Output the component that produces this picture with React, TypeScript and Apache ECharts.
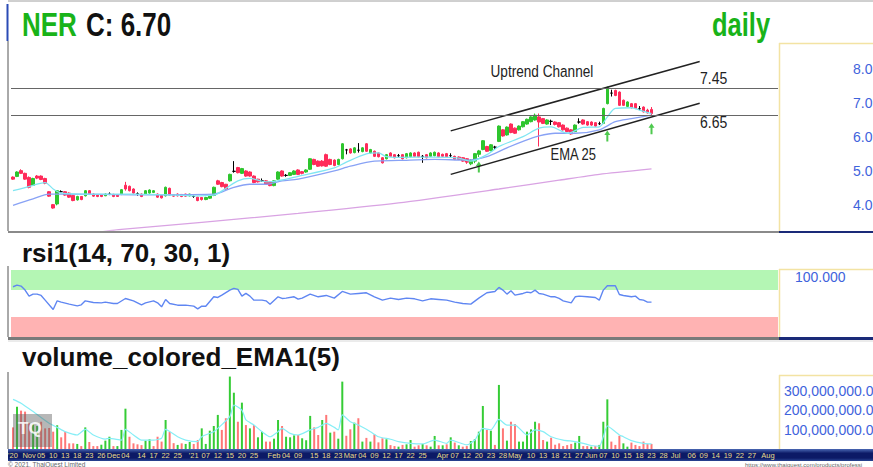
import React, { useEffect, useRef } from "react";
import * as echarts from "echarts";

const FONT = "'Liberation Sans', Arial, Helvetica, sans-serif";
const SLOT_COUNT = 191;

// x-axis tick labels: [slot index, text]
const xTickLabels: [number, string][] = [
  [0, "'20"], [4, "Nov"], [7, "05"], [10, "10"], [13, "13"], [16, "18"], [19, "23"], [22, "26"],
  [25, "Dec"], [28, "04"], [32, "14"], [35, "17"], [38, "22"], [41, "25"],
  [45, "'21"], [48, "07"], [51, "12"], [54, "15"], [57, "20"], [60, "25"],
  [65, "Feb"], [68, "04"], [71, "09"], [75, "15"], [78, "18"], [81, "23"],
  [84, "Mar"], [87, "04"], [90, "09"], [93, "12"], [96, "17"], [99, "22"], [102, "25"],
  [107, "Apr"], [110, "07"], [113, "12"], [116, "20"], [119, "23"], [122, "28"],
  [125, "May"], [129, "10"], [132, "13"], [135, "18"], [138, "21"], [141, "27"],
  [144, "Jun"], [147, "07"], [150, "10"], [153, "15"], [156, "18"], [159, "23"], [162, "28"],
  [165, "Jul"], [169, "06"], [172, "09"], [175, "14"], [178, "19"], [181, "22"], [184, "27"],
  [188, "Aug"],
];

// daily candles: [open, close, low, high]
const ohlc: number[][] = [
  [4.83, 4.77, 4.75, 4.85], [4.85, 4.98, 4.83, 5.0], [5.02, 4.94, 4.92, 5.06], [4.94, 4.77, 4.75, 4.96],
  [4.82, 4.53, 4.5, 4.85], [4.59, 4.79, 4.57, 4.81], [4.86, 4.8, 4.77, 4.89], [4.86, 4.76, 4.74, 4.88],
  [4.79, 4.65, 4.62, 4.81], [4.4, 4.27, 4.25, 4.42], [4.02, 3.92, 3.9, 4.04], [4.04, 4.43, 4.0, 4.45],
  [4.4, 4.4, 4.37, 4.44], [4.4, 4.3, 4.28, 4.42], [4.36, 4.24, 4.22, 4.38], [4.29, 4.14, 4.12, 4.3],
  [4.16, 4.26, 4.14, 4.28], [4.26, 4.17, 4.15, 4.27], [4.28, 4.43, 4.26, 4.45], [4.43, 4.33, 4.31, 4.45],
  [4.33, 4.27, 4.25, 4.35], [4.3, 4.26, 4.24, 4.32], [4.3, 4.26, 4.24, 4.31], [4.28, 4.33, 4.27, 4.35],
  [4.33, 4.33, 4.3, 4.38], [4.32, 4.26, 4.24, 4.34], [4.3, 4.26, 4.25, 4.32], [4.32, 4.46, 4.3, 4.48],
  [4.59, 4.48, 4.43, 4.69], [4.56, 4.43, 4.41, 4.58], [4.48, 4.36, 4.34, 4.5], [4.34, 4.34, 4.28, 4.38],
  [4.33, 4.26, 4.24, 4.35], [4.33, 4.43, 4.31, 4.45], [4.36, 4.45, 4.34, 4.47], [4.38, 4.43, 4.36, 4.45],
  [4.33, 4.24, 4.22, 4.35], [4.29, 4.22, 4.2, 4.3], [4.28, 4.53, 4.26, 4.55], [4.5, 4.3, 4.28, 4.52],
  [4.31, 4.27, 4.25, 4.33], [4.33, 4.28, 4.26, 4.35], [4.32, 4.26, 4.24, 4.33], [4.33, 4.27, 4.25, 4.34],
  [4.28, 4.33, 4.26, 4.34], [4.26, 4.26, 4.22, 4.29], [4.24, 4.14, 4.12, 4.25], [4.23, 4.17, 4.14, 4.24],
  [4.17, 4.23, 4.15, 4.25], [4.21, 4.3, 4.19, 4.32], [4.29, 4.53, 4.27, 4.55], [4.72, 4.62, 4.6, 4.75],
  [4.67, 4.55, 4.53, 4.69], [4.62, 4.48, 4.45, 4.63], [4.72, 4.91, 4.7, 4.93], [5.0, 5.0, 4.96, 5.3],
  [5.11, 4.96, 4.94, 5.13], [4.94, 5.08, 4.92, 5.1], [5.01, 4.86, 4.84, 5.03], [4.98, 4.86, 4.84, 5.0],
  [4.86, 4.67, 4.65, 4.88], [4.77, 4.69, 4.67, 4.78], [4.72, 4.72, 4.69, 4.79], [4.72, 4.62, 4.6, 4.74],
  [4.69, 4.58, 4.56, 4.7], [4.58, 4.72, 4.56, 4.74], [4.77, 4.98, 4.75, 5.0], [5.01, 4.86, 4.84, 5.03],
  [4.88, 4.88, 4.84, 4.92], [4.88, 4.96, 4.86, 4.98], [4.91, 5.01, 4.89, 5.03], [5.04, 4.91, 4.89, 5.06],
  [4.99, 4.94, 4.91, 5.01], [4.98, 5.04, 4.96, 5.06], [5.06, 5.37, 5.04, 5.39], [5.35, 5.2, 5.18, 5.37],
  [5.3, 5.15, 5.13, 5.32], [5.3, 5.16, 5.14, 5.33], [5.49, 5.15, 5.13, 5.52], [5.35, 5.2, 5.18, 5.37],
  [5.33, 5.17, 5.15, 5.35], [5.2, 5.35, 5.18, 5.37], [5.37, 5.81, 5.35, 5.83], [5.63, 5.63, 5.5, 5.66],
  [5.66, 5.54, 5.52, 5.68], [5.55, 5.69, 5.53, 5.71], [5.62, 5.62, 5.55, 5.83], [5.58, 5.69, 5.56, 5.71],
  [5.81, 5.59, 5.57, 5.83], [5.54, 5.64, 5.52, 5.66], [5.59, 5.44, 5.42, 5.61], [5.54, 5.43, 5.41, 5.56],
  [5.4, 5.25, 5.23, 5.42], [5.37, 5.49, 5.35, 5.51], [5.54, 5.44, 5.42, 5.56], [5.49, 5.4, 5.38, 5.51],
  [5.46, 5.46, 5.42, 5.51], [5.49, 5.37, 5.35, 5.51], [5.4, 5.52, 5.38, 5.54], [5.43, 5.54, 5.41, 5.56],
  [5.54, 5.44, 5.42, 5.56], [5.56, 5.43, 5.41, 5.58], [5.44, 5.44, 5.25, 5.48], [5.49, 5.4, 5.38, 5.51],
  [5.44, 5.54, 5.42, 5.56], [5.46, 5.56, 5.44, 5.58], [5.54, 5.43, 5.41, 5.56], [5.5, 5.44, 5.42, 5.52],
  [5.52, 5.43, 5.41, 5.54], [5.46, 5.46, 5.4, 5.53], [5.44, 5.35, 5.33, 5.46], [5.42, 5.35, 5.33, 5.44],
  [5.4, 5.3, 5.28, 5.42], [5.37, 5.27, 5.22, 5.39], [5.22, 5.33, 5.18, 5.35], [5.3, 5.52, 5.24, 5.54],
  [5.5, 5.6, 5.42, 5.63], [5.64, 5.9, 5.62, 5.92], [5.73, 5.59, 5.57, 5.75], [5.61, 5.78, 5.59, 5.8],
  [5.71, 5.71, 5.64, 5.75], [5.88, 6.33, 5.86, 6.35], [6.22, 6.04, 6.02, 6.24], [6.07, 6.3, 6.05, 6.32],
  [6.39, 6.14, 6.12, 6.41], [6.27, 6.12, 6.1, 6.29], [6.22, 6.33, 6.2, 6.35], [6.31, 6.46, 6.29, 6.48],
  [6.39, 6.53, 6.37, 6.55], [6.46, 6.6, 6.44, 6.62], [6.51, 6.65, 6.49, 6.7], [6.6, 6.45, 5.73, 6.7],
  [6.55, 6.41, 6.39, 6.57], [6.39, 6.51, 6.37, 6.53], [6.47, 6.47, 6.36, 6.52], [6.45, 6.38, 6.35, 6.47],
  [6.43, 6.31, 6.29, 6.45], [6.36, 6.22, 6.2, 6.38], [6.27, 6.17, 6.15, 6.29], [6.22, 6.1, 6.08, 6.24],
  [6.17, 6.36, 6.15, 6.38], [6.45, 6.45, 6.4, 6.56], [6.51, 6.39, 6.37, 6.53], [6.46, 6.36, 6.34, 6.48],
  [6.45, 6.36, 6.34, 6.47], [6.43, 6.33, 6.31, 6.45], [6.4, 6.4, 6.36, 6.46], [6.41, 6.85, 6.39, 6.87],
  [6.99, 7.47, 6.97, 7.49], [7.3, 7.3, 7.2, 7.4], [7.38, 7.23, 7.21, 7.4], [7.33, 6.94, 6.92, 7.35],
  [7.09, 6.94, 6.92, 7.11], [6.91, 7.04, 6.89, 7.06], [6.99, 6.87, 6.85, 7.01], [6.99, 6.85, 6.83, 7.01],
  [6.84, 6.84, 6.8, 6.92], [6.89, 6.75, 6.73, 6.91], [6.8, 6.72, 6.7, 6.84], [6.82, 6.7, 6.65, 6.89],
];

// daily volume, millions of shares
const volumeM: number[] = [
  111, 217, 197, 192, 132, 127, 118, 140, 106, 108,
  89, 122, 60, 87, 29, 29, 26, 15, 111, 36,
  15, 15, 22, 43, 63, 15, 15, 98, 207, 63,
  29, 24, 20, 43, 50, 15, 63, 38, 149, 87,
  30, 21, 29, 26, 36, 26, 46, 106, 26, 94,
  118, 175, 98, 158, 372, 289, 140, 238, 123, 106,
  123, 60, 89, 38, 38, 53, 149, 118, 63, 60,
  70, 72, 55, 45, 170, 111, 72, 149, 175, 84,
  89, 53, 346, 68, 101, 135, 158, 38, 57, 38,
  75, 34, 55, 50, 20, 15, 12, 21, 24, 46,
  12, 19, 26, 19, 12, 67, 19, 19, 24, 60,
  33, 19, 12, 15, 41, 51, 89, 221, 98, 94,
  21, 329, 106, 43, 140, 128, 38, 38, 89, 101,
  140, 132, 46, 38, 58, 22, 29, 15, 20, 26,
  33, 67, 15, 15, 12, 15, 21, 140, 255, 38,
  21, 68, 29, 12, 33, 21, 15, 38, 26, 26,
];

// indicator lines: [slot index, value]
const emaFast: number[][] = [
  [0, 4.43], [5, 4.59], [8, 4.67], [10, 4.48], [12, 4.36], [20, 4.33], [30, 4.33], [38, 4.31],
  [45, 4.28], [50, 4.3], [53, 4.5], [56, 4.72], [59, 4.79], [63, 4.69], [66, 4.72], [71, 4.85],
  [80, 5.1], [83, 5.27], [88, 5.51], [91, 5.54], [93, 5.43], [96, 5.41], [105, 5.42], [111, 5.39],
  [114, 5.3], [118, 5.49], [121, 5.73], [127, 6.02], [131, 6.27], [134, 6.31], [138, 6.12],
  [142, 6.29], [146, 6.31], [148, 6.6], [150, 6.85], [154, 6.87], [156, 6.8], [159, 6.7],
];
const ema25: number[][] = [
  [0, 4.0], [5, 4.19], [9, 4.33], [13, 4.33], [30, 4.31], [50, 4.33], [55, 4.53], [59, 4.62],
  [63, 4.62], [67, 4.72], [71, 4.77], [80, 5.01], [84, 5.15], [90, 5.3], [96, 5.32], [105, 5.35],
  [113, 5.33], [118, 5.43], [123, 5.69], [127, 5.88], [131, 6.04], [135, 6.12], [140, 6.12],
  [146, 6.22], [150, 6.46], [154, 6.55], [159, 6.65],
];
const emaLong: number[][] = [
  [22, 3.22], [27, 3.29], [47, 3.5], [71, 3.76], [96, 4.07], [121, 4.48], [136, 4.74],
  [146, 4.91], [159, 5.07],
];
const rsiPoints: number[][] = [
  [0, 75], [1, 77.5], [2, 76], [3, 70], [4, 61], [5, 64], [6, 64], [7, 62], [8, 55], [10, 41],
  [11, 54], [12, 52], [14, 49], [16, 46.5], [17, 48], [18, 54], [20, 51.5], [22, 51], [23, 52],
  [25, 50], [26, 50], [28, 57.5], [30, 54], [32, 48], [33, 51], [35, 54], [36, 51], [37, 45],
  [38, 56], [39, 50], [41, 47.5], [43, 47.5], [45, 46], [46, 42], [47, 46], [48, 46], [50, 60],
  [51, 59], [52, 62.5], [54, 70], [55, 72.5], [56, 71], [57, 61], [58, 65], [59, 61], [60, 55],
  [62, 55], [63, 54], [64, 49], [66, 60], [67, 57.5], [68, 58], [70, 60], [71, 56.5],
  [72, 58], [74, 64], [76, 60], [78, 62], [80, 58], [82, 68], [84, 64], [86, 65], [88, 66],
  [90, 60], [92, 55], [94, 58], [96, 56], [98, 58], [100, 57], [102, 54], [104, 57], [106, 56],
  [108, 55], [110, 52], [112, 50], [114, 49], [116, 58], [118, 66], [120, 68],
  [121, 74], [122, 70], [123, 64], [124, 69], [125, 62.5], [127, 65], [128, 67], [129, 66],
  [130, 70], [131, 65], [132, 64], [134, 60], [135, 60], [136, 57.5], [137, 54], [139, 51],
  [140, 60], [141, 61], [143, 60], [145, 59], [146, 55], [147, 70], [148, 76.5], [150, 76.5],
  [151, 63.5], [152, 62], [154, 60], [155, 61], [156, 56], [157, 55], [158, 52], [159, 52],
];
const volEmaM: number[][] = [
  [0, 255], [2, 235], [5, 192], [9, 132], [11, 111], [13, 89], [16, 72], [18, 101], [20, 72],
  [23, 51], [24, 55], [27, 46], [28, 101], [30, 72], [32, 46], [35, 46], [37, 55], [38, 101],
  [41, 63], [43, 46], [46, 38], [47, 63], [50, 89], [51, 106], [54, 166], [55, 226], [57, 200],
  [58, 149], [60, 123], [62, 89], [64, 63], [66, 89], [67, 106], [69, 80], [71, 72], [74, 98],
  [76, 111], [78, 132], [80, 111], [81, 98], [82, 175], [84, 140], [86, 123], [89, 89], [91, 63],
  [94, 50], [96, 38], [99, 29], [102, 26], [105, 46], [108, 29], [109, 46], [113, 21], [115, 46],
  [117, 106], [119, 98], [121, 152], [123, 123], [125, 123], [128, 72], [130, 98], [132, 89],
  [134, 63], [137, 46], [140, 38], [142, 29], [144, 18], [146, 14], [147, 63], [148, 118],
  [150, 89], [151, 72], [152, 63], [154, 43], [157, 29], [159, 26],
];

const channelUpper: number[][] = [[109, 6.19], [171, 8.23]];
const channelLower: number[][] = [[109, 4.91], [171, 7.0]];
const levelLines: number[] = [7.45, 6.65];
const signalArrows: number[][] = [[116, 5.13], [148, 6.04], [159, 6.25]];

const priceTicks: number[] = [4, 5, 6, 7, 8];
const rsiTicks: number[] = [100];
const volumeTicks: number[] = [100000000, 200000000, 300000000];

function buildOption(): any {
  const cats = Array.from({ length: SLOT_COUNT }, (_, i) => String(i));
  const labelMap = new Map<number, string>(xTickLabels);
  const lastClose = ohlc[ohlc.length - 1][1];

  const UP = "#2ec52e";
  const DOWN = "#ff2b5a";
  const candleData = ohlc.map(([o, c, l, h]) =>
    o === c
      ? { value: [o, c, l, h], itemStyle: { color: "#000", color0: "#000", borderColor: "#000", borderColor0: "#000" } }
      : [o, c, l, h]
  );
  const volData = volumeM.map((v, i) => ({
    value: v * 1e6,
    itemStyle: { color: i > 0 && ohlc[i][1] >= ohlc[i - 1][1] ? "#35cc35" : "#ff7777" },
  }));

  const hiddenX = (gridIndex: number) => ({
    type: "category",
    gridIndex,
    data: cats,
    boundaryGap: true,
    axisLine: { show: false },
    axisTick: { show: false },
    axisLabel: { show: false },
    splitLine: { show: false },
  });

  const axisLabelBase = { color: "#3f63dc", fontSize: 14, fontFamily: FONT, align: "left" };

  const txt = (text: string, x: number, y: number, size: number, fill: string, bold: boolean, scaleY = 1) => ({
    type: "text",
    x,
    y,
    scaleY,
    z: 100,
    silent: true,
    style: {
      text,
      fill,
      font: `${bold ? "bold " : ""}${size}px ${FONT}`,
      align: "left",
      verticalAlign: "middle",
    },
  });
  const ln = (x1: number, y1: number, x2: number, y2: number, stroke: string, lineWidth = 1) => ({
    type: "line",
    z: 90,
    silent: true,
    shape: { x1, y1, x2, y2 },
    style: { stroke, lineWidth },
  });

  const YEL = "#f3e3a3";
  const NAVY = "#1a2a78";

  const gridBase = { left: 11, right: 95, outerBoundsMode: "none", containLabel: false };

  return {
    animation: false,
    backgroundColor: "#ffffff",
    grid: [
      { ...gridBase, top: 43, height: 187 },
      { ...gridBase, top: 270, height: 67 },
      { ...gridBase, top: 375, height: 74 },
    ],
    xAxis: [
      hiddenX(0),
      hiddenX(1),
      {
        type: "category",
        gridIndex: 2,
        data: cats,
        boundaryGap: true,
        z: 10,
        axisLine: { show: false },
        axisTick: { show: false },
        splitLine: { show: false },
        axisLabel: {
          show: true,
          interval: (idx: number) => labelMap.has(idx),
          formatter: (_v: string, idx: number) => labelMap.get(idx) ?? "",
          color: "#e8dc8c",
          fontSize: 7.5,
          fontFamily: FONT,
          margin: 2.5,
          hideOverlap: false,
        },
      },
    ],
    yAxis: [
      {
        type: "value",
        gridIndex: 0,
        position: "right",
        min: 3.274,
        max: 8.774,
        axisLine: { show: false },
        axisTick: { show: false },
        splitLine: { show: false },
        axisLabel: {
          ...axisLabelBase,
          customValues: priceTicks,
          formatter: (v: number) => Number(v).toFixed(1),
          margin: 75,
          padding: [4, 0, 0, 0],
          overflow: "none",
        },
      },
      {
        type: "value",
        gridIndex: 1,
        position: "right",
        min: 0,
        max: 100,
        axisLine: { show: false },
        axisTick: { show: false },
        splitLine: { show: false },
        axisLabel: {
          ...axisLabelBase,
          customValues: rsiTicks,
          formatter: (v: number) => Number(v).toFixed(3),
          margin: 17,
          verticalAlign: "top",
        },
      },
      {
        type: "value",
        gridIndex: 2,
        position: "right",
        min: 0,
        max: 380000000,
        axisLine: { show: false },
        axisTick: { show: false },
        splitLine: { show: false },
        axisLabel: {
          ...axisLabelBase,
          customValues: volumeTicks,
          formatter: (v: number) =>
            Number(v).toLocaleString("en-US", { minimumFractionDigits: 1, maximumFractionDigits: 1 }),
          margin: 6,
        },
      },
    ],
    series: [
      {
        name: "EMA long",
        type: "line",
        xAxisIndex: 0,
        yAxisIndex: 0,
        data: emaLong,
        showSymbol: false,
        smooth: 0.2,
        lineStyle: { color: "#d9a3e3", width: 1.3 },
        silent: true,
      },
      {
        name: "EMA 25",
        type: "line",
        xAxisIndex: 0,
        yAxisIndex: 0,
        data: ema25,
        showSymbol: false,
        smooth: 0.3,
        lineStyle: { color: "#88a2f5", width: 1.3 },
        silent: true,
      },
      {
        name: "EMA fast",
        type: "line",
        xAxisIndex: 0,
        yAxisIndex: 0,
        data: emaFast,
        showSymbol: false,
        smooth: 0.3,
        lineStyle: { color: "#80e6f2", width: 1.3 },
        silent: true,
      },
      {
        name: "NER",
        type: "candlestick",
        xAxisIndex: 0,
        yAxisIndex: 0,
        data: candleData,
        barWidth: 3,
        itemStyle: { color: UP, color0: DOWN, borderColor: UP, borderColor0: DOWN, borderWidth: 1 },
        markLine: {
          silent: true,
          symbol: "none",
          data: [
            ...levelLines.map((v) => ({
              yAxis: v,
              lineStyle: { color: "#666", width: 1, type: "solid" },
              label: { show: false },
            })),
            {
              yAxis: lastClose,
              lineStyle: { opacity: 0 },
              label: {
                show: true,
                position: "end",
                distance: 1,
                formatter: lastClose.toFixed(2),
                backgroundColor: "#000",
                color: "#fff",
                padding: [3, 1, 2, 1],
                fontSize: 13,
                fontFamily: FONT,
              },
            },
          ],
        },
      },
      {
        name: "Channel upper",
        type: "line",
        xAxisIndex: 0,
        yAxisIndex: 0,
        data: channelUpper,
        showSymbol: false,
        lineStyle: { color: "#222", width: 1.5 },
        silent: true,
      },
      {
        name: "Channel lower",
        type: "line",
        xAxisIndex: 0,
        yAxisIndex: 0,
        data: channelLower,
        showSymbol: false,
        lineStyle: { color: "#222", width: 1.5 },
        silent: true,
      },
      {
        name: "Signals",
        type: "scatter",
        xAxisIndex: 0,
        yAxisIndex: 0,
        data: signalArrows,
        symbol: "path://M3,0L6,4.5L4,4.5L4,11L2,11L2,4.5L0,4.5Z",
        symbolSize: [6, 11],
        itemStyle: { color: "#22bb22" },
        silent: true,
      },
      {
        name: "RSI",
        type: "line",
        xAxisIndex: 1,
        yAxisIndex: 1,
        data: rsiPoints,
        showSymbol: false,
        lineStyle: { color: "#5f86f2", width: 1.4 },
        silent: true,
        markArea: {
          silent: true,
          data: [
            [{ yAxis: 70, itemStyle: { color: "#b4f6b4", opacity: 1 } }, { yAxis: 100 }],
            [{ yAxis: 0, itemStyle: { color: "#ffb3b3", opacity: 1 } }, { yAxis: 30 }],
          ],
        },
      },
      {
        name: "Volume",
        type: "bar",
        xAxisIndex: 2,
        yAxisIndex: 2,
        data: volData,
        barWidth: 2,
        silent: true,
      },
      {
        name: "Volume EMA",
        type: "line",
        xAxisIndex: 2,
        yAxisIndex: 2,
        data: volEmaM.map(([i, v]) => [i, v * 1e6]),
        showSymbol: false,
        smooth: 0.2,
        lineStyle: { color: "#86eef6", width: 1.2 },
        silent: true,
      },
    ],
    graphic: [
      // frame lines
      ln(8, 1, 873, 1, "#a0a0a0", 1),
      ln(7.5, 4, 7.5, 41, "#2a4bb5", 2),
      ln(8, 41, 8, 231, "#555", 1),
      ln(8, 266, 8, 337, "#555", 1),
      ln(8, 372, 8, 449, "#555", 1),
      ln(8, 232, 779, 232, "#8a8a8a", 2),
      ln(779, 232, 873, 232, NAVY, 2),
      { type: "rect", z: 90, silent: true, shape: { x: 8, y: 337, width: 771, height: 3 }, style: { fill: "#7a7a7a" } },
      { type: "rect", z: 90, silent: true, shape: { x: 779, y: 337, width: 94, height: 3 }, style: { fill: NAVY } },
      ln(8, 341, 873, 341, "#d8d8d8", 1),
      // right axis panels
      ln(779.5, 43, 779.5, 231, YEL, 1.5),
      ln(779, 43.5, 873, 43.5, YEL, 1.5),
      ln(779.5, 269, 779.5, 337, YEL, 1.5),
      ln(779, 269.5, 873, 269.5, YEL, 1.5),
      ln(779.5, 375, 779.5, 449, YEL, 1.5),
      ln(779, 375.5, 873, 375.5, YEL, 1.5),
      // date band
      {
        type: "rect",
        z: 1,
        silent: true,
        shape: { x: 8, y: 449, width: 865, height: 12 },
        style: {
          fill: new echarts.graphic.LinearGradient(0, 0, 0, 1, [
            { offset: 0, color: "#4a68b4" },
            { offset: 0.35, color: "#0c1a66" },
            { offset: 0.75, color: "#0c1a66" },
            { offset: 1, color: "#2a4694" },
          ]),
        },
      },
      // watermark
      { type: "rect", z: 60, silent: true, shape: { x: 13, y: 414, width: 39, height: 33 }, style: { fill: "rgba(95,95,95,0.45)" } },
      txt("TQ", 18, 428, 17, "rgba(255,255,255,0.85)", true),
      // titles
      txt("NER", 22, 24.5, 26, "#19b319", true, 1.27),
      txt(`C: ${lastClose.toFixed(2)}`, 86, 24.5, 26, "#111", true, 1.27),
      txt("daily", 712, 24.5, 25.5, "#19b319", true, 1.27),
      txt("rsi1(14, 70, 30, 1)", 22, 252.5, 26, "#111", true),
      txt("volume_colored_EMA1(5)", 22, 357, 26, "#111", true),
      // annotations
      txt("Uptrend Channel", 490.5, 71, 13.6, "#222", false, 1.2),
      txt("EMA 25", 550.5, 154, 13, "#222", false, 1.25),
      txt(levelLines[0].toFixed(2), 700, 78, 14, "#222", false, 1.2),
      txt(levelLines[1].toFixed(2), 700, 122, 14, "#222", false, 1.2),
      // footer
      txt("© 2021, ThaiQuest Limited", 8, 464.5, 6.5, "#666", false),
      txt("https://www.thaiquest.com/products/professi", 745, 464.5, 6, "#666", false),
    ],
  };
}

export default function App() {
  const ref = useRef<HTMLDivElement>(null);
  useEffect(() => {
    if (!ref.current) return;
    const chart = echarts.init(ref.current, undefined, { renderer: "svg" });
    chart.setOption(buildOption());
    return () => chart.dispose();
  }, []);
  return (
    <div
      ref={ref}
      style={{ position: "fixed", left: 0, top: 0, width: 873, height: 467, background: "#fff" }}
    />
  );
}
